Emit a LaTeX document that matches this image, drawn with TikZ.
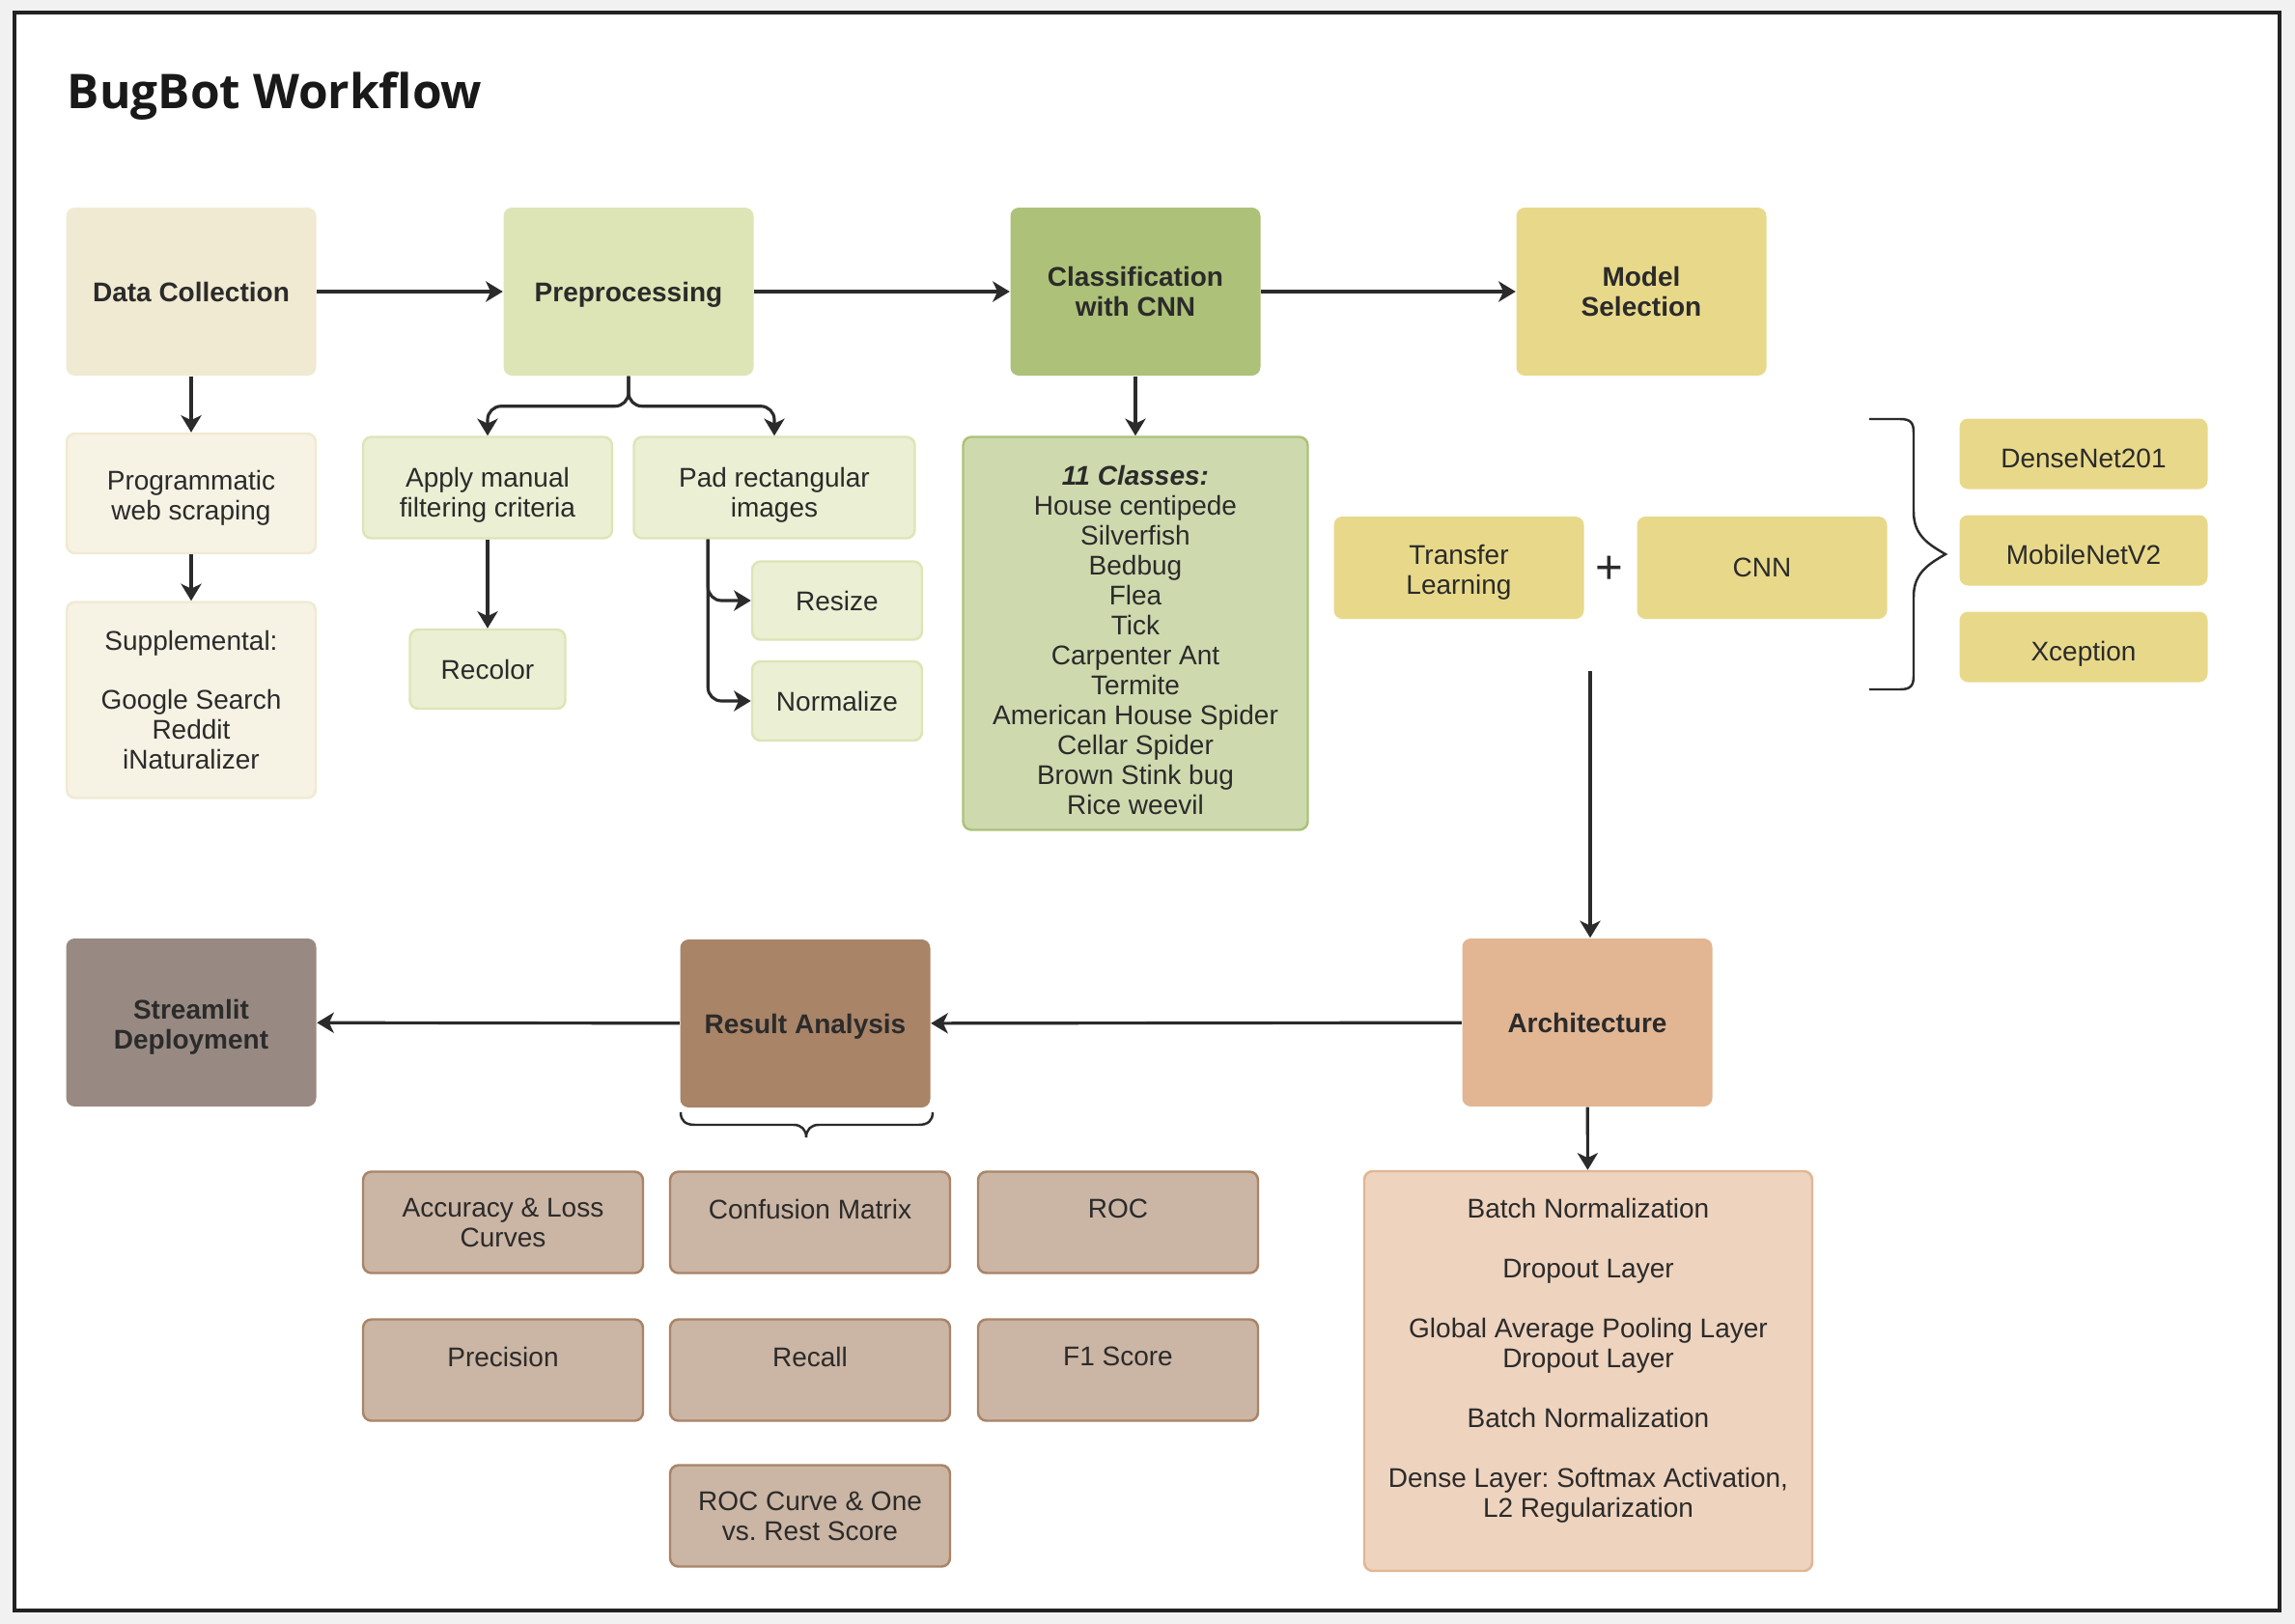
\documentclass[tikz,border=0pt]{standalone}
\usepackage{fontspec}
\setmainfont{Liberation Sans}
\newfontfamily\titlefont{Open Sans}
\frenchspacing
\definecolor{pagebg}{HTML}{F1F1F1}
\definecolor{frame}{HTML}{222222}
\definecolor{ink}{HTML}{2B2B2B}
\definecolor{cream}{HTML}{F0EAD2}
\definecolor{sage}{HTML}{DDE5B6}
\definecolor{olive}{HTML}{ADC178}
\definecolor{straw}{HTML}{E8D98A}
\definecolor{tan}{HTML}{E2B693}
\definecolor{brown}{HTML}{A98467}
\definecolor{umber}{HTML}{988A82}
\usetikzlibrary{arrows.meta}
\newcommand{\lbl}{\fontsize{7.97}{8.82}\selectfont}
\newcommand{\padtop}[1]{\rule{0pt}{#1}}
\newcommand{\padbot}[1]{\rule[-#1]{0pt}{#1}}

\begin{document}
\begin{tikzpicture}[
    box/.style={rounded corners=2.5pt, align=center, inner sep=0pt, text=ink, font=\lbl},
    stage/.style={box, fill=#1, minimum width=2.59cm, minimum height=1.74cm, font=\lbl\bfseries},
    item/.style={box, fill=#1!60!white, draw=#1, line width=0.7pt},
    flat/.style={box, fill=#1},
    toptext/.style={text depth=0.28cm},
    midtext/.style={text height=0.29cm, text depth=0cm},
    nodepth/.style={text depth=0cm},
    arr/.style={draw=ink, line width=0.9pt, -{Stealth[length=5pt, width=6pt, inset=1.4pt]}},
    brc/.style={draw=ink, line width=0.7pt}
]
        % Page and frame
        \useasboundingbox (0,0) rectangle (23.77,-16.82);
        \fill[pagebg] (0,0) rectangle (23.77,-16.82);
        \filldraw[fill=white, draw=frame, line width=0.9pt] (0.15,-0.13) rectangle (23.61,-16.68);

        \node[anchor=base west, text=black!90, font=\titlefont\bfseries\fontsize{14.1}{16}\selectfont] (title) at (0.575,-1.12) {BugBot Workflow};

        % Top row
        \node[stage=cream] (dc) at (1.98,-3.02) {Data Collection};
        \node[stage=sage, nodepth] (pre) at (6.51,-3.02) {Preprocessing};
        \node[stage=olive] (cls) at (11.76,-3.02) {Classification\\with CNN};
        \node[stage=straw] (msel) at (17.00,-3.02) {Model\\Selection};

        % Data collection details
        \node[item=cream, minimum width=2.58cm, minimum height=1.24cm] (web) at (1.98,-5.11) {\padtop{0.29cm}Programmatic\\web scraping};
        \node[item=cream, minimum width=2.58cm, minimum height=2.03cm] (supp) at (1.98,-7.25) {Supplemental:\\[8.8pt]Google Search\\Reddit\\iNaturalizer};

        % Preprocessing details
        \node[item=sage, minimum width=2.58cm, minimum height=1.05cm] (filt) at (5.05,-5.05) {\padtop{0.35cm}Apply manual\\filtering criteria};
        \node[item=sage, minimum width=2.91cm, minimum height=1.05cm] (pad) at (8.02,-5.05) {\padtop{0.35cm}Pad rectangular\\images};
        \node[item=sage, minimum width=1.61cm, minimum height=0.82cm] (recol) at (5.05,-6.93) {Recolor};
        \node[item=sage, minimum width=1.76cm, minimum height=0.81cm] (resize) at (8.67,-6.22) {Resize};
        \node[item=sage, minimum width=1.76cm, minimum height=0.82cm] (norm) at (8.67,-7.26) {Normalize};

        % Classes
        \node[item=olive, minimum width=3.57cm, minimum height=4.07cm] (classes) at (11.76,-6.56) {\padtop{0.35cm}\textbf{\textit{11 Classes:}}\\House centipede\\Silverfish\\Bedbug\\Flea\\Tick\\Carpenter Ant\\Termite\\American House Spider\\Cellar Spider\\Brown Stink bug\\Rice weevil};

        % Model selection details
        \node[flat=straw, minimum width=2.59cm, minimum height=1.06cm] (tl) at (15.11,-5.88) {\padtop{0.29cm}Transfer\\Learning};
        \node[text=ink, font=\fontsize{14}{14}\selectfont] (plus) at (16.67,-5.90) {+};
        \node[flat=straw, minimum width=2.59cm, minimum height=1.06cm] (cnn) at (18.25,-5.88) {CNN};
        \node[flat=straw, midtext, minimum width=2.57cm, minimum height=0.73cm] (dn) at (21.58,-4.70) {DenseNet201};
        \node[flat=straw, midtext, minimum width=2.57cm, minimum height=0.73cm] (mb) at (21.58,-5.70) {MobileNetV2};
        \node[flat=straw, midtext, minimum width=2.57cm, minimum height=0.73cm] (xc) at (21.58,-6.70) {Xception};
        \draw[brc] (19.36,-4.34) -- (19.68,-4.34) .. controls (19.79,-4.34) and (19.82,-4.38) .. (19.82,-4.48)
            -- (19.82,-5.30) .. controls (19.82,-5.55) and (19.98,-5.64) .. (20.15,-5.74)
            .. controls (19.98,-5.84) and (19.82,-5.93) .. (19.82,-6.18)
            -- (19.82,-7.00) .. controls (19.82,-7.10) and (19.79,-7.14) .. (19.68,-7.14) -- (19.36,-7.14);

        % Bottom row
        \node[stage=tan] (arch) at (16.44,-10.59) {Architecture};
        \node[stage=brown, nodepth] (res) at (8.34,-10.60) {Result Analysis};
        \node[stage=umber] (stl) at (1.98,-10.59) {\padtop{0.29cm}Streamlit\\Deployment};

        \node[item=tan, minimum width=4.64cm, minimum height=4.14cm] (archd) at (16.45,-14.20) {Batch Normalization\\[8.8pt]Dropout Layer\\[8.8pt]Global Average Pooling Layer\\Dropout Layer\\[8.8pt]Batch Normalization\\[8.8pt]Dense Layer: Softmax Activation,\\L2 Regularization\padbot{0.27cm}};

        % Result metrics
        \draw[brc] (7.05,-11.52) .. controls (7.05,-11.61) and (7.10,-11.65) .. (7.20,-11.65) -- (8.22,-11.65)
            .. controls (8.30,-11.65) and (8.35,-11.70) .. (8.35,-11.78)
            .. controls (8.35,-11.70) and (8.40,-11.65) .. (8.48,-11.65) -- (9.51,-11.65)
            .. controls (9.61,-11.65) and (9.66,-11.61) .. (9.66,-11.52);
        \node[item=brown, minimum width=2.90cm, minimum height=1.05cm] (acc) at (5.21,-12.66) {Accuracy \& Loss\\Curves};
        \node[item=brown, toptext, minimum width=2.90cm, minimum height=1.05cm] (conf) at (8.39,-12.66) {Confusion Matrix};
        \node[item=brown, toptext, minimum width=2.90cm, minimum height=1.05cm] (roc) at (11.58,-12.66) {ROC};
        \node[item=brown, toptext, minimum width=2.90cm, minimum height=1.05cm] (prec) at (5.21,-14.19) {Precision};
        \node[item=brown, toptext, minimum width=2.90cm, minimum height=1.05cm] (rec) at (8.39,-14.19) {Recall};
        \node[item=brown, toptext, minimum width=2.90cm, minimum height=1.05cm] (f1) at (11.58,-14.19) {F1 Score};
        \node[item=brown, minimum width=2.90cm, minimum height=1.05cm] (rocc) at (8.39,-15.70) {ROC Curve \& One\\vs. Rest Score};

        % Arrows
        \draw[arr] (dc) -- (pre);
        \draw[arr] (pre) -- (cls);
        \draw[arr] (cls) -- (msel);
        \draw[arr] (dc) -- (web);
        \draw[arr] (web) -- (supp);
        \draw[arr, rounded corners=4pt] (pre.south) -- ++(0,-0.31) -| (filt.north);
        \draw[arr, rounded corners=4pt] (pre.south) -- ++(0,-0.31) -| (pad.north);
        \draw[arr] (filt) -- (recol);
        \path (pad.south west) ++(0.78,0) coordinate (padx);
        \draw[arr, rounded corners=4pt] (padx) |- (resize.west);
        \draw[arr, rounded corners=4pt] (padx) |- (norm.west);
        \draw[arr] (cls) -- (classes);
        \coordinate (tlx) at (16.47,-6.95);
        \draw[arr] (tlx) -- (tlx |- arch.north);
        \draw[arr] (arch) -- (res);
        \draw[arr] (res) -- (stl);
        \draw[arr] (arch) -- (archd);
\end{tikzpicture}
\end{document}
